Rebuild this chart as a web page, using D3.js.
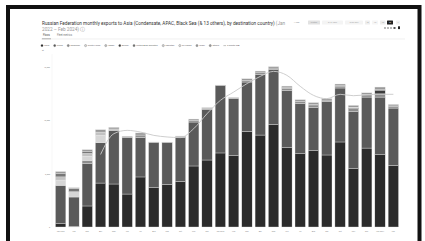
<!DOCTYPE html>
<html>
<head>
<meta charset="utf-8">
<script src="https://cdn.jsdelivr.net/npm/d3@7"></script>
<style>
  html, body { margin: 0; padding: 0; background: #fff; }
  svg { display: block; font-family: Roboto, "Noto Sans", sans-serif; }
</style>
</head>
<body>
<div id="chart"></div>
<script>
var width = 425, height = 241;

// months, Jan 2022 .. Feb 2024
var months = ["Jan 2022","Feb","Mar","Apr","May","Jun","Jul","Aug","Sep","Oct","Nov","Dec",
              "Jan 2023","Feb","Mar","Apr","May","Jun","Jul","Aug","Sep","Oct","Nov","Dec",
              "Jan 2024","Feb"];
var keys = months.map(function(m, i) { return "m" + i; });

// series values (kt)
var india      = [310, 60, 1970, 4120, 4030, 3090, 4690, 3690, 4000, 4280, 5720, 6280,
                  6940, 6690, 8970, 8620, 9620, 7440, 6870, 7160, 6750, 7970, 5470, 7400, 6780, 5780];
var china      = [3590, 2750, 3970, 3780, 5030, 5280, 3690, 4220, 3900, 4090, 4120, 4750,
                  6310, 5370, 4620, 5690, 5160, 5370, 4690, 4060, 5030, 5060, 5370, 4780, 5400, 5370];
var myanmar    = [0, 0, 300, 0, 0, 0, 240, 0, 0, 80, 120, 80,
                  0, 40, 150, 150, 120, 200, 180, 220, 120, 180, 250, 200, 300, 160];
var southKorea = [500, 500, 400, 700, 0, 0, 0, 0, 0, 0, 0, 0,
                  0, 0, 0, 0, 0, 0, 0, 0, 0, 0, 0, 0, 0, 0];
var japan      = [300, 0, 260, 300, 130, 0, 0, 0, 0, 0, 0, 0,
                  0, 0, 0, 0, 0, 0, 0, 0, 0, 0, 0, 0, 0, 0];
var brunei     = [0, 0, 0, 0, 0, 0, 0, 0, 0, 0, 0, 0,
                  0, 0, 0, 0, 0, 0, 0, 0, 0, 0, 0, 0, 350, 0];
var uae        = [300, 300, 200, 0, 0, 0, 0, 0, 0, 0, 40, 0,
                  0, 0, 0, 0, 0, 50, 50, 60, 0, 40, 80, 50, 90, 40];
var pakistan   = [0, 0, 0, 0, 0, 0, 0, 0, 0, 0, 0, 0,
                  0, 0, 0, 0, 0, 0, 0, 0, 0, 0, 60, 0, 0, 0];
var sriLanka   = [0, 0, 0, 0, 0, 0, 0, 0, 0, 0, 0, 0,
                  0, 0, 0, 0, 0, 0, 0, 0, 0, 0, 0, 0, 0, 0];
var israel     = [0, 0, 0, 0, 0, 0, 0, 0, 0, 0, 0, 0,
                  0, 0, 0, 0, 0, 0, 0, 0, 0, 0, 0, 0, 0, 0];
var others     = [200, 75, 150, 220, 150, 130, 200, 60, 60, 80, 120, 80,
                  60, 50, 160, 160, 130, 150, 145, 160, 130, 155, 170, 150, 200, 140];
// 3 month moving average (kt)
var ma3 = [null, null, null, 6800, 8750, 9060, 8900, 8590, 8440, 8380, 9220, 10620,
           11870, 12650, 13440, 14120, 14590, 14220, 13190, 12340, 12030, 12440, 12310, 12400, 12440, 12440];

var yTicks = [0, 5000, 10000, 15000];

var seriesNames = ["India","China","Myanmar","South Korea","Japan","Brunei","United Arab Emirates",
                   "Pakistan","Sri Lanka","Israel","Others"];
var seriesVals = [india, china, myanmar, southKorea, japan, brunei, uae, pakistan, sriLanka, israel, others];
var colors = ["#2b2b2b","#5a5a5a","#8e8e8e","#d6d6d6","#c2c2c2","#3c3c3c","#777777",
              "#cfcfcf","#e0e0e0","#a0a0a0","#9a9a9a"];

var rows = months.map(function(m, i) {
  var r = { key: keys[i] };
  seriesNames.forEach(function(s, j) { r[s] = seriesVals[j][i]; });
  return r;
});

var svg = d3.select("#chart").append("svg")
  .attr("width", width)
  .attr("height", height);

svg.append("rect").attr("width", width).attr("height", height).attr("fill", "#fff");

// outer frame
svg.append("rect")
  .attr("x", 8).attr("y", 7)
  .attr("width", 411.5).attr("height", 260)
  .attr("fill", "none")
  .attr("stroke", "#111")
  .attr("stroke-width", 4);

// title
var title = svg.append("text")
  .attr("x", 42).attr("y", 24.5)
  .attr("font-size", "4.7px")
  .attr("fill", "#333");
title.append("tspan").text("Russian Federation monthly exports to Asia (Condensate, APAC, Black Sea (& 13 others), by destination country) ");
title.append("tspan").attr("fill", "#999").text("(Jan");
svg.append("text")
  .attr("x", 42).attr("y", 30.5)
  .attr("font-size", "4.7px")
  .attr("fill", "#999")
  .text("2022 – Feb 2024)  ⓘ");

// tabs
svg.append("text").attr("x", 43).attr("y", 36).attr("font-size", "2.6px").attr("fill", "#444").text("Flows");
svg.append("text").attr("x", 57).attr("y", 36).attr("font-size", "2.6px").attr("fill", "#777").text("Fleet metrics");
svg.append("line").attr("x1", 41).attr("x2", 405).attr("y1", 39).attr("y2", 39)
  .attr("stroke", "#e6e6e6").attr("stroke-width", 0.6);
svg.append("line").attr("x1", 42).attr("x2", 51).attr("y1", 38.8).attr("y2", 38.8)
  .attr("stroke", "#666").attr("stroke-width", 0.5);

// top right controls
var ctrl = svg.append("g").attr("font-size", "2px").attr("fill", "#888");
ctrl.append("text").attr("x", 294).attr("y", 23.3).text("<  Year");
var boxes = [
  { x: 308, w: 12, t: "Custom", f: "#e2e2e2" },
  { x: 322, w: 21, t: "01-01-2022", f: "#f4f4f4" },
  { x: 345, w: 18, t: "29-02-2024", f: "#f4f4f4" },
  { x: 365, w: 5, t: "1D", f: "#eeeeee" },
  { x: 372, w: 6, t: "1W", f: "#f6f6f6" },
  { x: 380, w: 5.5, t: "1M", f: "#eeeeee" },
  { x: 387, w: 6, t: "M", f: "#222" },
  { x: 396, w: 4, t: "Y", f: "#f2f2f2" }
];
boxes.forEach(function(b) {
  ctrl.append("rect").attr("x", b.x).attr("y", 20.5).attr("width", b.w).attr("height", 4)
    .attr("rx", 0.5).attr("fill", b.f);
  ctrl.append("text").attr("x", b.x + b.w / 2).attr("y", 23.3).attr("text-anchor", "middle")
    .attr("font-size", "1.8px").attr("fill", b.f === "#222" ? "#fff" : "#999").text(b.t);
});
[384, 387, 390, 393.5].forEach(function(x, i) {
  ctrl.append("rect").attr("x", x).attr("y", 27).attr("width", 2).attr("height", 2)
    .attr("fill", i === 3 ? "#555" : "#bbb");
});
ctrl.append("rect").attr("x", 398).attr("y", 26.3).attr("width", 2).attr("height", 2.8).attr("fill", "#222");

// legend
var legendItems = seriesNames.concat(["3 month MA"]);
var legendFill = colors.slice();
var lg = svg.append("g").attr("font-size", "2.3px").attr("fill", "#666");
var lx = 42;
legendItems.forEach(function(name, i) {
  var g = lg.append("g").attr("transform", "translate(" + lx + ",45.6)");
  if (i < seriesNames.length) {
    g.append("circle").attr("r", 1.1).attr("fill", legendFill[i]).attr("stroke", "#555").attr("stroke-width", 0.3);
  } else {
    g.append("line").attr("x1", -1.3).attr("x2", 1.3).attr("stroke", "#999").attr("stroke-width", 0.6);
  }
  var t = g.append("text").attr("x", 2.2).attr("y", 0.8).text(name);
  lx += 2.2 + t.node().getComputedTextLength() + 5.5;
});
svg.append("text").attr("x", 42).attr("y", 51).attr("font-size", "2.2px").attr("fill", "#777").text("kt");

// scales
var x = d3.scaleBand().domain(keys).range([54, 400]).paddingInner(0.22).paddingOuter(0.11);
var y = d3.scaleLinear().domain([0, 15000]).range([227, 67]);

// y axis
var yAxis = svg.append("g")
  .attr("transform", "translate(52,0)")
  .call(d3.axisLeft(y).tickValues(yTicks).tickSize(0).tickPadding(2).tickFormat(d3.format(",")));
yAxis.select(".domain").attr("stroke", "#eee").attr("stroke-width", 0.5)
  .attr("d", "M0," + y(16200) + "V" + y(0));
yAxis.selectAll("text").attr("font-size", "2px").attr("fill", "#888").attr("font-family", "Roboto, sans-serif");

// stacked bars
var stack = d3.stack().keys(seriesNames);
var layers = stack(rows);
svg.append("g").selectAll("g")
  .data(layers)
  .enter().append("g")
  .attr("fill", function(d, i) { return colors[i]; })
  .selectAll("rect")
  .data(function(d) { return d; })
  .enter().append("rect")
  .attr("x", function(d) { return x(d.data.key); })
  .attr("width", x.bandwidth())
  .attr("y", function(d) { return y(d[1]); })
  .attr("height", function(d) { return y(d[0]) - y(d[1]); })
  .attr("stroke", "#e8e8e8")
  .attr("stroke-width", 0.35);

// moving average line
var line = d3.line()
  .defined(function(d) { return d != null; })
  .x(function(d, i) { return x(keys[i]) + x.bandwidth() / 2; })
  .y(function(d) { return y(d); })
  .curve(d3.curveMonotoneX);
svg.append("path")
  .datum(ma3)
  .attr("d", line)
  .attr("fill", "none")
  .attr("stroke", "#c8c8c8")
  .attr("stroke-width", 0.9);

// x axis
var xAxis = svg.append("g")
  .attr("transform", "translate(0,227)")
  .call(d3.axisBottom(x).tickSize(0).tickPadding(4).tickFormat(function(d, i) { return months[i]; }));
xAxis.select(".domain").remove();
xAxis.selectAll("text").attr("font-size", "1.9px").attr("fill", "#888").attr("font-family", "Roboto, sans-serif");
</script>
</body>
</html>
